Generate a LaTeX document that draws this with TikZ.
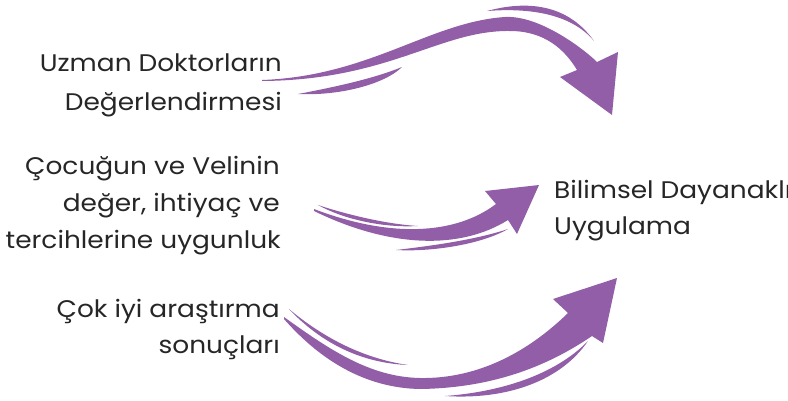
\documentclass[tikz,border=0pt]{standalone}
\usepackage{fontspec}
\setmainfont{Poppins}[FakeStretch=1.1]
\definecolor{arrowc}{RGB}{146,94,167}
\definecolor{textc}{RGB}{38,38,38}
\begin{document}
\begin{tikzpicture}[x=1pt,y=-1pt,
  lbl/.style={text=textc,font=\fontsize{24}{28}\selectfont,inner sep=0pt},
  arr/.style={fill=arrowc,draw=none}]
\useasboundingbox (0,0) rectangle (788,400);
% labels
\node[lbl,anchor=base east] (l1a) at (282,71) {Uzman Doktorların};
\node[lbl,anchor=base east] (l1b) at (282,110) {Değerlendirmesi};
\node[lbl,anchor=base east] (l2a) at (280,174) {Çocuğun ve Velinin};
\node[lbl,anchor=base east] (l2b) at (280,211) {değer, ihtiyaç ve};
\node[lbl,anchor=base east] (l2c) at (281,248) {tercihlerine uygunluk};
\node[lbl,anchor=base east] (l3a) at (280,317) {Çok iyi araştırma};
\node[lbl,anchor=base east] (l3b) at (280,353) {sonuçları};
\node[lbl,anchor=base west] (r1) at (554,198) {Bilimsel Dayanaklı};
\node[lbl,anchor=base west] (r2) at (554,234) {Uygulama};
% arrow 1 (top)
\fill[arr] (262,80) .. controls (370,76) and (430,22) .. (505,17)
  .. controls (540,15) and (585,50) .. (597,62) -- (618,52) -- (612,115) -- (560,77) -- (577,70)
  .. controls (565,50) and (545,31) .. (510,31)
  .. controls (440,30) and (390,80) .. (262,81) -- cycle;
\fill[arr] (487,11) .. controls (520,2) and (565,0) .. (594,41)
  .. controls (570,12) and (525,8) .. (487,11) -- cycle;
\fill[arr] (298,94) .. controls (340,96) and (385,84) .. (402,67)
  .. controls (375,78) and (340,86) .. (298,94) -- cycle;
% arrow 2 (middle)
\fill[arr] (314,209) .. controls (390,238) and (455,235) .. (496,204) -- (485,191) -- (539,185) -- (517,234) -- (508,220)
  .. controls (460,250) and (390,248) .. (314,211) -- cycle;
\fill[arr] (318,205) .. controls (345,214) and (385,224) .. (418,226)
  .. controls (385,228) and (345,220) .. (318,205) -- cycle;
\fill[arr] (396,250) .. controls (430,252) and (480,245) .. (508,229)
  .. controls (475,240) and (430,246) .. (396,250) -- cycle;
% arrow 3 (bottom)
\fill[arr] (284,317) .. controls (330,350) and (370,377) .. (420,378)
  .. controls (480,379) and (530,350) .. (568,313) -- (553,299) -- (617,278) -- (603,343) -- (592,336)
  .. controls (545,368) and (490,388) .. (420,389)
  .. controls (365,388) and (320,360) .. (284,319) -- cycle;
\fill[arr] (289,309) .. controls (320,335) and (360,358) .. (408,365)
  .. controls (360,363) and (320,342) .. (289,309) -- cycle;
\fill[arr] (445,396) .. controls (500,392) and (555,375) .. (588,341)
  .. controls (560,382) and (505,400) .. (445,396) -- cycle;
\end{tikzpicture}
\end{document}
